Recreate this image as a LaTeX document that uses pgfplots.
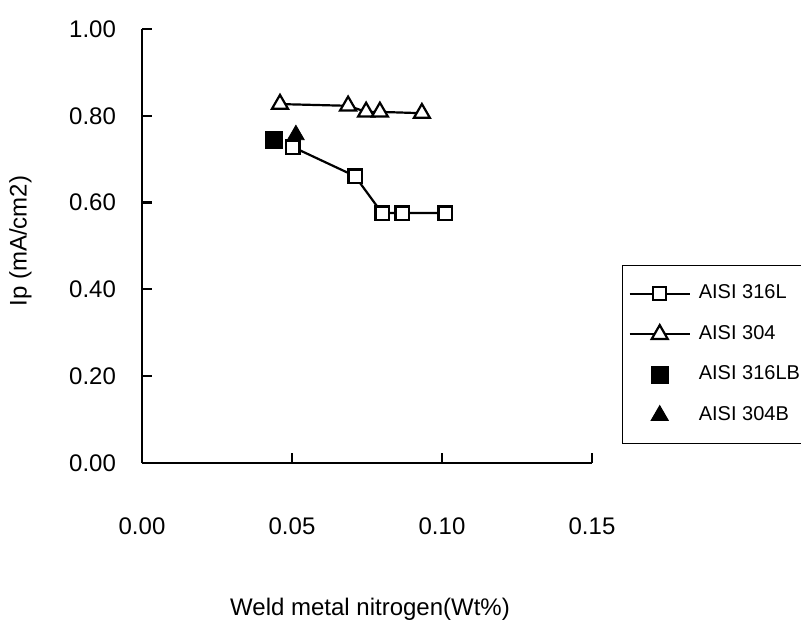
\documentclass[border=0pt]{standalone}
\usepackage{pgfplots}
\pgfplotsset{compat=1.18}
\usepackage{fontspec}
\setmainfont{Liberation Sans}
\begin{document}
\begin{tikzpicture}
\useasboundingbox (0,0) rectangle (400.5pt,313pt);
\begin{axis}[
  at={(71pt,81.5pt)}, anchor=south west,
  scale only axis, width=225pt, height=217pt,
  xmin=0, xmax=0.15, ymin=0, ymax=1,
  clip=false,
  axis lines=left, axis line style={-, line width=1.3pt},
  xtick={0,0.05,0.1,0.15}, ytick={0,0.2,0.4,0.6,0.8,1},
  tick align=inside, major tick length=5pt,
  tick style={line width=1.1pt, black},
  /pgf/number format/assume math mode=true,
  tick label style={font=\fontsize{12}{14}\selectfont},
  xticklabel style={yshift=-24pt, /pgf/number format/.cd, fixed, fixed zerofill, precision=2},
  yticklabel style={xshift=-9.5pt, /pgf/number format/.cd, fixed, fixed zerofill, precision=2},
  scaled x ticks=false, scaled y ticks=false,
  xlabel={Weld metal nitrogen(Wt\%)},
  ylabel={Ip (mA/cm2)},
  every axis x label/.style={at={(rel axis cs:0.5067,-0.336)}, anchor=center,
    font=\fontsize{12}{14}\selectfont},
  every axis y label/.style={at={(rel axis cs:-0.27,0.5115)}, rotate=90, anchor=center,
    font=\fontsize{12}{14}\selectfont},
  legend image code/.code={\draw[mark repeat=2,mark phase=2,#1] plot coordinates {(0pt,0pt)(15pt,0pt)(30pt,0pt)};},
  legend style={at={(rel axis cs:1.0667,0.456)}, anchor=north west,
    draw=black, line width=0.6pt, font=\fontsize{10}{12}\selectfont,
    inner xsep=3pt, inner ysep=9pt, row sep=10.3pt, column sep=4pt,
    nodes={inner sep=0pt, text height=7.5pt, text depth=2.5pt},
    cells={anchor=west}},
]
\addplot[black, line width=1.1pt, mark=square*, mark size=3.3pt,
  mark options={fill=white, draw=black, line width=1.1pt}]
  coordinates {(0.0503,0.728) (0.0710,0.661) (0.0800,0.576) (0.0867,0.576) (0.1010,0.576)};
\addlegendentry{AISI 316L}
\addplot[black, line width=1.1pt, mark=triangle*, mark size=4.6pt,
  mark options={fill=white, draw=black, line width=1.1pt}]
  coordinates {(0.0460,0.827) (0.0687,0.823) (0.0747,0.809) (0.0793,0.809) (0.0933,0.806)};
\addlegendentry{AISI 304}
\addplot[black, only marks, mark=square*, mark size=4.3pt]
  coordinates {(0.0440,0.744)};
\addlegendentry{AISI 316LB}
\addplot[black, only marks, mark=triangle*, mark size=4.8pt]
  coordinates {(0.0513,0.756)};
\addlegendentry{AISI 304B}
\end{axis}
\end{tikzpicture}
\end{document}
